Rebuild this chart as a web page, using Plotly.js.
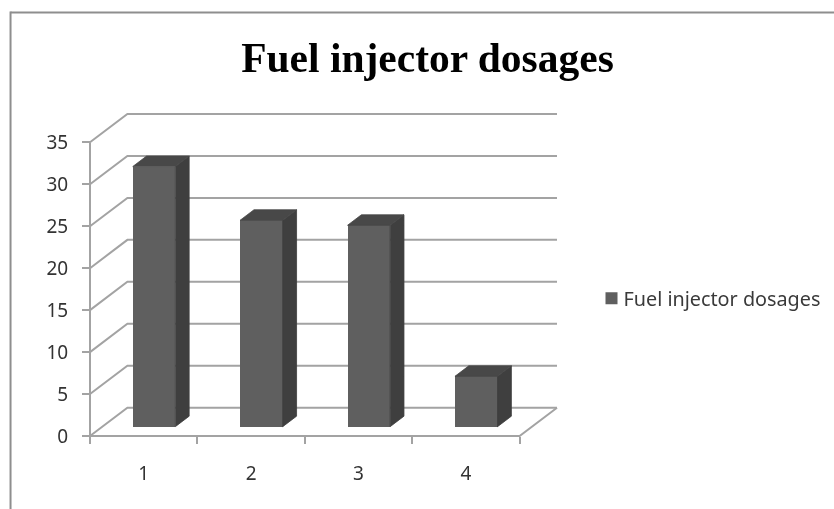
<!DOCTYPE html>
<html>
<head>
<meta charset="utf-8">
<script src="https://cdn.plot.ly/plotly-3.0.1.min.js"></script>
<style>html,body{margin:0;padding:0;background:#fff;overflow:hidden}#chart{filter:blur(0.35px)}</style>
</head>
<body>
<div id="chart" style="width:834px;height:509px"></div>
<script>
const categories = [1, 2, 3, 4];
const dosages = [31, 24.6, 24, 6];
const yTicks = [0, 5, 10, 15, 20, 25, 30, 35];
const seriesName = 'Fuel injector dosages';

const W = 834, H = 509;
const pad = 3;
const L = 89.5, R = 556.7, T = 113.7, B = 436;
const bandPx = (519.3 - 89.5) / 4, unitPx = (436 - 141.5) / 35;
const depthX = (556.7 - 519.3) / bandPx, depthY = (436 - 407.6) / unitPx;
const xMin = 0.5, xMax = 4.5, yMax = 35;
const barWidth = 42.6 / bandPx, front = 0.33, back = 0.70, barShift = -2 / bandPx;

const gridColor = '#a3a3a3', gridW = 2;
const gx = [], gy = [];
yTicks.forEach(v => {
  gx.push(xMin, xMin + depthX, xMax + depthX, null);
  gy.push(v, v + depthY, v + depthY, null);
});
const axX = [xMin, xMin, null, xMin, xMax, xMax + depthX];
const axY = [yMax, 0, null, 0, 0, depthY];

const sideX = [], sideY = [], topX = [], topY = [];
categories.forEach((c, i) => {
  const v = dosages[i], l = c + barShift - barWidth / 2, r = c + barShift + barWidth / 2;
  const fx = depthX * front, fy = depthY * front, bx = depthX * back, by = depthY * back;
  sideX.push(r + fx, r + bx, r + bx, r + fx, r + fx, null);
  sideY.push(fy, by, v + by, v + fy, fy, null);
  topX.push(l + fx, r + fx, r + bx, l + bx, l + fx, null);
  topY.push(v + fy, v + fy, v + by, v + by, v + fy, null);
});

const traces = [
  {type: 'scatter', mode: 'lines', x: gx, y: gy, xaxis: 'x', yaxis: 'y', showlegend: false, hoverinfo: 'skip',
   line: {color: gridColor, width: gridW}},
  {type: 'scatter', mode: 'lines', x: axX, y: axY, xaxis: 'x', yaxis: 'y', showlegend: false, hoverinfo: 'skip',
   line: {color: gridColor, width: gridW}},
  {type: 'bar', name: seriesName, x: categories.map(c => c + barShift + depthX * front), y: dosages, base: depthY * front,
   width: barWidth, xaxis: 'x2', yaxis: 'y2', marker: {color: '#5f5f5f', line: {width: 0}}, showlegend: true},
  {type: 'scatter', mode: 'lines', x: sideX, y: sideY, xaxis: 'x2', yaxis: 'y2', showlegend: false, hoverinfo: 'skip',
   fill: 'toself', fillcolor: '#3f3f3f', line: {width: 0.8, color: '#3f3f3f'}},
  {type: 'scatter', mode: 'lines', x: topX, y: topY, xaxis: 'x2', yaxis: 'y2', showlegend: false, hoverinfo: 'skip',
   fill: 'toself', fillcolor: '#484848', line: {width: 0.8, color: '#484848'}}
];

const left = L - pad, right = R + pad, top_ = T - pad, bottom = B + pad;
const plotW = right - left, plotH = bottom - top_;
const toPaperX = p => (p - left) / plotW, toPaperY = p => (bottom - p) / plotH;
const xRange = [xMin - pad / bandPx, xMax + depthX + pad / bandPx];
const yRange = [-pad / unitPx, yMax + depthY + pad / unitPx];
const textFont = 'Noto Sans, Open Sans, sans-serif';

const layout = {
  width: W, height: H,
  margin: {l: left, r: W - right, t: top_, b: H - bottom, pad: 0},
  paper_bgcolor: '#ffffff', plot_bgcolor: 'rgba(0,0,0,0)',
  title: {text: seriesName, x: 427.5 / W, xref: 'container', xanchor: 'center', y: 1 - 57 / H, yref: 'container', yanchor: 'middle',
          font: {family: 'Liberation Serif, serif', size: 41.5, color: '#000', weight: 700}},
  showlegend: true,
  legend: {xref: 'container', yref: 'container', x: 583.5 / W, y: 1 - 298.5 / H, xanchor: 'left', yanchor: 'middle', bgcolor: 'rgba(0,0,0,0)',
           font: {family: textFont, size: 19.8, color: '#3a3a3a'}, itemwidth: 30},
  xaxis: {range: xRange, tickmode: 'array', tickvals: categories, ticktext: categories.map(String), ticks: '', showgrid: false, zeroline: false,
          showline: false, ticklabelstandoff: 21, tickfont: {family: textFont, size: 19, color: '#333'}, fixedrange: true},
  yaxis: {range: yRange, tickmode: 'array', tickvals: yTicks, ticktext: yTicks.map(String), ticks: 'outside', ticklen: 8, tickwidth: 2, tickcolor: gridColor,
          anchor: 'free', position: toPaperX(L), showgrid: false, zeroline: false, showline: false, ticklabelstandoff: 10, tickfont: {family: textFont, size: 19, color: '#333'}, fixedrange: true},
  xaxis2: {range: xRange, overlaying: 'x', anchor: 'free', position: toPaperY(B), side: 'bottom', tickmode: 'array', tickvals: [0.5, 1.5, 2.5, 3.5, 4.5], ticktext: ['', '', '', '', ''],
           ticks: 'outside', ticklen: 7, tickwidth: 2, tickcolor: gridColor, showgrid: false, zeroline: false, showline: false, fixedrange: true},
  yaxis2: {range: yRange, overlaying: 'y', anchor: 'x2', visible: false, fixedrange: true},
  bargap: 0,
  shapes: [
    {type: 'line', xref: 'paper', yref: 'paper', x0: toPaperX(10), x1: toPaperX(834), y0: toPaperY(12), y1: toPaperY(12), line: {color: '#8e8e8e', width: 2}},
    {type: 'line', xref: 'paper', yref: 'paper', x0: toPaperX(10), x1: toPaperX(10), y0: toPaperY(11), y1: toPaperY(509), line: {color: '#8e8e8e', width: 2}}
  ]
};
Plotly.newPlot('chart', traces, layout, {displayModeBar: false, staticPlot: true}).then(gd => {
  gd.querySelectorAll('.legendpoints').forEach(n => n.setAttribute('transform', 'translate(8,0)'));
});
</script>
</body>
</html>
